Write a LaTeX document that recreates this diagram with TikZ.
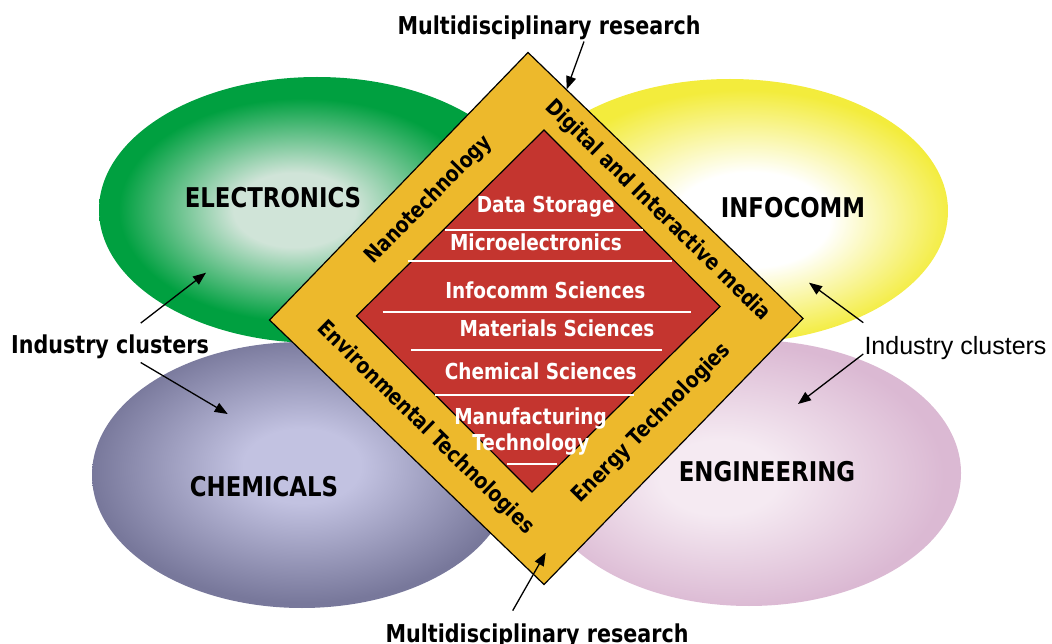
\documentclass[tikz,border=0pt]{standalone}
\usepackage{fontspec}
\setmainfont[FakeStretch=0.84]{DejaVu Sans}
\newfontfamily\helv{Liberation Sans}
\usetikzlibrary{arrows.meta,calc}

\definecolor{bandgold}{RGB}{237,185,44}
\definecolor{corered}{RGB}{196,53,47}
\definecolor{elecout}{RGB}{0,160,64}
\definecolor{elecin}{RGB}{208,228,216}
\definecolor{infoout}{RGB}{243,236,60}
\definecolor{chemout}{RGB}{120,120,155}
\definecolor{chemin}{RGB}{194,194,225}
\definecolor{engout}{RGB}{219,185,211}
\definecolor{engin}{RGB}{245,234,242}

\pgfdeclareradialshading{elecshade}{\pgfpoint{-3bp}{0bp}}{color(0bp)=(elecin); color(7bp)=(elecin); color(21bp)=(elecout); color(50bp)=(elecout)}
\pgfdeclareradialshading{infoshade}{\pgfpoint{3bp}{-2bp}}{color(0bp)=(white); color(9bp)=(white); color(24bp)=(infoout); color(50bp)=(infoout)}
\pgfdeclareradialshading{chemshade}{\pgfpoint{0bp}{2bp}}{color(0bp)=(chemin); color(7bp)=(chemin); color(25bp)=(chemout); color(50bp)=(chemout)}
\pgfdeclareradialshading{engshade}{\pgfpoint{-4bp}{-1bp}}{color(0bp)=(engin); color(7bp)=(engin); color(25bp)=(engout); color(50bp)=(engout)}

\begin{document}
\begin{tikzpicture}[x=1pt,y=-1pt,
  lbl/.style={font=\bfseries\fontsize{24.6}{29}\selectfont,inner sep=1pt,anchor=base},
  cluster/.style={font=\bfseries\fontsize{27.2}{31}\selectfont,inner sep=0pt,anchor=base},
  topic/.style={font=\bfseries\fontsize{22}{26}\selectfont,text=white,inner sep=0pt,anchor=base},
  band/.style={font=\bfseries\fontsize{22}{26}\selectfont,inner sep=0pt,sloped},
  whiteline/.style={white,line width=2pt},
  arr/.style={-{Triangle[length=13pt,width=10pt]},line width=1.3pt}]
  \useasboundingbox (0,0) rectangle (1052,644);

  % industry clusters
  \shade[shading=elecshade] (317,210) ellipse [x radius=218pt, y radius=133pt];
  \shade[shading=infoshade] (730,211) ellipse [x radius=218pt, y radius=132pt];
  \shade[shading=chemshade] (302,475) ellipse [x radius=210pt, y radius=133pt];
  \shade[shading=engshade] (749,473) ellipse [x radius=212pt, y radius=133pt];

  % research diamond
  \coordinate (oT) at (528,52.5); \coordinate (oR) at (803,318.5);
  \coordinate (oB) at (544,584.5); \coordinate (oL) at (269.5,320);
  \coordinate (iT) at (544,130); \coordinate (iR) at (720,306.5);
  \coordinate (iB) at (532,492); \coordinate (iL) at (356.5,316);
  \draw[line width=1.2pt,fill=bandgold] (oT) -- (oR) -- (oB) -- (oL) -- cycle;
  \draw[line width=1.2pt,fill=corered] (iT) -- (iR) -- (iB) -- (iL) -- cycle;

  \path ($(oL)!.5!(iL)$) -- ($(oT)!.5!(iT)$) node[band,pos=.52] (nano) {Nanotechnology};
  \path ($(oT)!.5!(iT)$) -- ($(oR)!.5!(iR)$) node[band,pos=.54] (digital) {Digital and Interactive media};
  \path ($(oL)!.5!(iL)$) -- ($(oB)!.5!(iB)$) node[band,pos=.5] (envtech) {Environmental Technologies};
  \path ($(oB)!.5!(iB)$) -- ($(oR)!.5!(iR)$) node[band,pos=.51] (energy) {Energy Technologies};

  \foreach \y/\a/\b in {230/445/643, 261/408/672, 312/382.5/691, 350/411/662, 394.6/435/634, 464/507/557}
    \draw[whiteline] (\a,\y) -- (\b,\y);

  \node[topic] (store) at (545.7,212.5) {Data Storage};
  \node[topic] (micro) at (536,250.7) {Microelectronics};
  \node[topic] (infosci) at (545.4,299) {Infocomm Sciences};
  \node[topic] (matsci) at (557,336) {Materials Sciences};
  \node[topic] (chemsci) at (540.7,379) {Chemical Sciences};
  \node[topic] (manuf) at (530.5,424) {Manufacturing};
  \node[topic] (techn) at (530.8,450.7) {Technology};

  \node[cluster] (elec) at (273,208) {ELECTRONICS};
  \node[cluster] (info) at (793,218) {INFOCOMM};
  \node[cluster] (chem) at (264,496) {CHEMICALS};
  \node[cluster] (eng) at (767,481) {ENGINEERING};

  \node[lbl] (mtop) at (549,35) {Multidisciplinary research};
  \node[lbl] (mbot) at (537,642) {Multidisciplinary research};
  \node[lbl] (icl) at (110,353) {Industry clusters};
  \node[font=\helv\fontsize{25}{30}\selectfont,inner sep=1pt,anchor=base] (icr) at (955.5,354) {Industry clusters};

  \coordinate (elecpt) at (206,272.7);
  \coordinate (chempt) at (227.7,414);
  \coordinate (infopt) at (809,282.7);
  \coordinate (engpt) at (798,404);
  \coordinate (toppt) at (566.7,89.3);
  \coordinate (botpt) at (545.7,552.7);

  \draw[arr] ([shift={(30.7pt,10pt)}]icl.north) -- (elecpt);
  \draw[arr] ([shift={(30.7pt,-3pt)}]icl.south) -- (chempt);
  \draw[arr] ([yshift=12pt]icr.north west) -- (infopt);
  \draw[arr] (icr.base west) -- (engpt);
  \draw[arr] ([xshift=35pt]mtop.south) -- (toppt);
  \draw[arr] ([shift={(-24.3pt,11.5pt)}]mbot.north) -- (botpt);
\end{tikzpicture}
\end{document}
